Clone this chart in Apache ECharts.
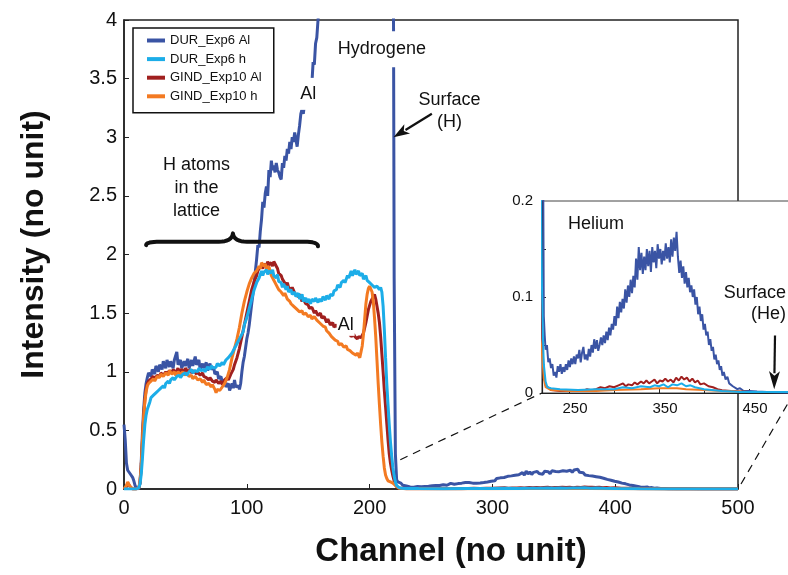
<!DOCTYPE html>
<html>
<head>
<meta charset="utf-8">
<script src="https://cdn.jsdelivr.net/npm/echarts@6/dist/echarts.min.js"></script>
<style>
html, body { margin: 0; padding: 0; background: #fff; }
#chart { width: 788px; height: 575px; }
</style>
</head>
<body>
<div id="chart"></div>
<script>
// [channel, intensity]
var durAl = [[0,0.55],[1,0.42],[2,0.22],[3,0.16],[5,0.13],[7,0.1],[8,0.07],[9,0.03],[10,0.01],[12,0],[13,0.05],[14,0.22],[15,0.48],[16,0.68],[17,0.82],[18,0.9],[19,0.95],[20,0.99],[22,0.96],[23,1.02],[25,0.98],[26,1.05],[28,1.0],[29,1.06],[31,1.02],[32,1.09],[34,1.03],[35,1.1],[37,1.04],[38,1.09],[40,1.03],[41,1.1],[43,1.17],[44,1.06],[46,1.1],[47,1.03],[49,1.09],[50,1.05],[52,1.11],[53,1.03],[55,1.1],[56,1.05],[58,1.13],[59,1.06],[61,1.1],[62,1.02],[64,1.07],[65,1.03],[67,1.08],[68,1.01],[70,1.07],[71,1.02],[73,1.04],[74,0.98],[76,1.0],[77,0.94],[79,0.96],[80,0.91],[82,0.93],[83,0.87],[85,0.9],[86,0.84],[88,0.9],[89,0.86],[90,0.93],[91,0.87],[93,0.88],[94,0.85],[95,0.9],[96,1.0],[97,1.08],[98,1.13],[100,1.28],[101,1.33],[102,1.4],[104,1.58],[105,1.66],[106,1.76],[108,1.96],[109,2.08],[110,2.06],[111,2.2],[112,2.3],[113,2.45],[114,2.4],[115,2.52],[116,2.58],[117,2.5],[118,2.72],[119,2.66],[120,2.8],[121,2.72],[122,2.76],[123,2.7],[124,2.78],[125,2.72],[126,2.7],[127,2.66],[128,2.64],[129,2.78],[130,2.74],[131,2.84],[132,2.8],[133,2.9],[134,2.86],[135,2.96],[136,2.9],[137,3.0],[138,2.96],[139,3.04],[140,2.98],[141,2.92],[142,3.02],[143,3.1],[144,3.2],[145,3.24],[146,3.2],[147,3.28],[148,3.3],[149,3.26],[150,3.34],[151,3.42],[152,3.48],[153,3.46],[154,3.64],[155,3.62],[156,3.8],[157,3.85],[158,4.0],[160,4.3],[165,5.0],[170,5.8],[180,7.2],[190,8.5],[200,9.6],[210,10.4],[216,10.8],[218,10.5],[219,6.0],[220,1.8],[221,0.3],[222,0.08],[223,0.06],[224,0.045],[225.5,0.05],[227,0.032],[228.5,0.036],[230,0.026],[231.5,0.03],[233,0.018],[234.5,0.022],[236,0.016],[237.5,0.028],[239,0.022],[240.5,0.03],[242,0.02],[243.5,0.027],[245,0.022],[246.5,0.03],[248,0.024],[249.5,0.034],[251,0.027],[252.5,0.036],[254,0.03],[255.5,0.038],[257,0.03],[258.5,0.04],[260,0.036],[261.5,0.045],[263,0.032],[264.5,0.042],[266,0.048],[267.5,0.035],[269,0.04],[270.5,0.034],[272,0.046],[273.5,0.038],[275,0.05],[276.5,0.042],[278,0.056],[279.5,0.046],[281,0.055],[282.5,0.044],[284,0.05],[285.5,0.058],[287,0.05],[288.5,0.06],[290,0.052],[291.5,0.064],[293,0.055],[294.5,0.068],[296,0.06],[297.5,0.072],[299,0.066],[300.5,0.08],[302,0.07],[303.5,0.09],[305,0.078],[306.5,0.095],[308,0.084],[309.5,0.098],[311,0.088],[312.5,0.108],[314,0.094],[315.5,0.112],[317,0.1],[318.5,0.118],[320,0.104],[321.5,0.122],[323,0.11],[324.5,0.14],[326,0.118],[327.5,0.152],[329,0.128],[330.5,0.146],[332,0.124],[333.5,0.142],[335,0.128],[336.5,0.15],[338,0.132],[339.5,0.148],[341,0.126],[342.5,0.152],[344,0.136],[345.5,0.148],[347,0.13],[348.5,0.155],[350,0.14],[351.5,0.15],[353,0.134],[354.5,0.148],[356,0.138],[357.5,0.156],[359,0.14],[360.5,0.152],[362,0.136],[363.5,0.16],[365,0.142],[366.5,0.162],[368,0.148],[369.5,0.168],[371,0.142],[372.5,0.125],[374,0.138],[375.5,0.12],[377,0.132],[378.5,0.114],[380,0.126],[381.5,0.11],[383,0.12],[384.5,0.105],[386,0.112],[387.5,0.1],[389,0.108],[390.5,0.092],[392,0.1],[393.5,0.082],[395,0.09],[396.5,0.075],[398,0.082],[399.5,0.066],[401,0.072],[402.5,0.06],[404,0.064],[405.5,0.05],[407,0.056],[408.5,0.044],[410,0.048],[411.5,0.035],[413,0.04],[414.5,0.03],[416,0.034],[417.5,0.024],[419,0.028],[420.5,0.018],[422,0.022],[424,0.014],[426,0.017],[428,0.01],[430,0.012],[432,0.007],[434,0.008],[437,0.004],[440,0.005],[444,0.002],[450,0.002],[459,0.0015],[470,0.001],[480,0.0008],[500,0.0005]];

var durH = [[0,0],[5,0],[10,0],[12,0.01],[13,0.04],[14,0.12],[15,0.26],[16,0.42],[17,0.55],[18,0.63],[19,0.68],[20,0.71],[21,0.74],[22,0.78],[23,0.77],[24,0.8],[26,0.82],[28,0.84],[29,0.83],[30,0.86],[32,0.88],[33,0.86],[34,0.9],[36,0.92],[37,0.9],[38,0.93],[40,0.95],[41,0.93],[43,0.96],[45,0.97],[46,0.95],[48,0.98],[50,0.99],[51,0.97],[53,1.0],[55,1.02],[56,0.99],[58,1.01],[60,1.0],[61,1.03],[63,1.01],[65,1.02],[66,1.0],[68,1.04],[70,1.02],[71,1.05],[73,1.03],[75,1.04],[76,1.07],[78,1.05],[80,1.08],[81,1.06],[83,1.1],[85,1.12],[86,1.11],[88,1.16],[90,1.2],[91,1.22],[93,1.26],[95,1.3],[97,1.34],[98,1.4],[100,1.46],[102,1.54],[104,1.62],[106,1.7],[108,1.76],[110,1.8],[111,1.83],[112,1.86],[113,1.82],[114,1.85],[116,1.87],[117,1.83],[118,1.86],[120,1.84],[121,1.87],[122,1.82],[124,1.8],[125,1.83],[126,1.77],[128,1.76],[129,1.72],[130,1.75],[132,1.7],[133,1.73],[134,1.68],[136,1.7],[137,1.66],[139,1.68],[140,1.64],[142,1.67],[143,1.62],[145,1.66],[146,1.6],[148,1.63],[149,1.59],[150,1.62],[152,1.58],[153,1.62],[155,1.6],[156,1.63],[158,1.59],[159,1.62],[161,1.6],[162,1.64],[164,1.61],[165,1.65],[167,1.62],[168,1.66],[170,1.65],[171,1.69],[173,1.7],[174,1.74],[176,1.72],[177,1.76],[179,1.78],[180,1.76],[182,1.82],[183,1.8],[185,1.86],[186,1.82],[188,1.87],[189,1.83],[191,1.86],[192,1.82],[194,1.84],[195,1.79],[197,1.82],[198,1.78],[200,1.76],[202,1.74],[204,1.72],[206,1.73],[208,1.7],[209,1.72],[210,1.68],[211,1.56],[212,1.36],[213,1.12],[214,0.9],[215,0.72],[216,0.55],[217,0.4],[218,0.28],[219,0.18],[220,0.11],[221,0.06],[222,0.03],[224,0.012],[226,0.006],[230,0.005],[240,0.004],[260,0.003],[280,0.004],[300,0.004],[310,0.006],[320,0.005],[330,0.007],[340,0.006],[345,0.008],[350,0.007],[355,0.009],[360,0.006],[365,0.009],[370,0.008],[375,0.01],[380,0.007],[385,0.008],[390,0.006],[400,0.004],[420,0.002],[440,0.001],[460,0.001],[500,0.001]];

var gindAl = [[0,0],[2,0.02],[3,0.05],[4,0.04],[5,0.02],[7,0],[10,0],[12,0.01],[13,0.05],[14,0.18],[15,0.4],[16,0.62],[17,0.76],[18,0.85],[19,0.9],[20,0.92],[22,0.94],[24,0.96],[25,0.94],[27,0.97],[29,0.96],[30,0.99],[32,0.97],[34,1.0],[35,0.98],[37,1.01],[39,0.99],[40,1.02],[42,0.99],[44,1.03],[45,1.0],[47,1.02],[49,0.99],[50,1.03],[52,1.0],[54,1.02],[55,0.99],[57,1.01],[59,0.98],[60,1.0],[62,0.97],[64,0.99],[65,0.96],[67,0.95],[69,0.93],[70,0.95],[72,0.92],[74,0.91],[75,0.93],[77,0.9],[79,0.92],[80,0.89],[82,0.93],[84,0.95],[85,0.93],[87,0.98],[89,1.02],[90,1.06],[92,1.12],[94,1.2],[96,1.3],[98,1.4],[100,1.5],[102,1.6],[104,1.7],[106,1.77],[108,1.82],[109,1.86],[110,1.88],[112,1.9],[113,1.88],[114,1.92],[116,1.9],[117,1.94],[118,1.91],[120,1.93],[121,1.9],[122,1.94],[123,1.95],[124,1.9],[125,1.88],[126,1.84],[128,1.82],[129,1.79],[130,1.78],[132,1.74],[133,1.76],[134,1.72],[136,1.7],[137,1.72],[139,1.67],[140,1.66],[142,1.64],[143,1.66],[145,1.6],[146,1.62],[148,1.58],[150,1.57],[151,1.54],[153,1.55],[155,1.5],[156,1.52],[158,1.48],[160,1.5],[161,1.46],[163,1.47],[165,1.42],[166,1.45],[168,1.4],[170,1.42],[171,1.38],[173,1.4],[175,1.37],[177,1.36],[179,1.35],[181,1.33],[183,1.34],[185,1.3],[187,1.32],[188,1.3],[190,1.28],[191,1.3],[193,1.29],[195,1.33],[197,1.42],[199,1.53],[201,1.6],[203,1.64],[204,1.66],[205,1.62],[206,1.56],[207,1.5],[208,1.42],[209,1.3],[210,1.15],[211,1.0],[212,0.84],[213,0.7],[214,0.56],[215,0.42],[216,0.3],[217,0.22],[218,0.16],[219,0.11],[220,0.07],[221,0.04],[222,0.02],[224,0.008],[230,0.003],[240,0.002],[250,0.002],[260,0.003],[265,0.002],[270,0.004],[275,0.003],[280,0.004],[285,0.006],[290,0.005],[295,0.007],[300,0.006],[305,0.008],[310,0.01],[313,0.007],[316,0.009],[320,0.008],[323,0.011],[326,0.009],[330,0.012],[333,0.01],[336,0.013],[339,0.01],[342,0.012],[345,0.014],[348,0.01],[351,0.013],[354,0.012],[357,0.015],[360,0.012],[363,0.014],[366,0.011],[369,0.016],[372,0.013],[375,0.017],[378,0.014],[381,0.016],[384,0.012],[387,0.015],[390,0.011],[393,0.013],[396,0.009],[400,0.01],[405,0.007],[410,0.006],[415,0.004],[420,0.003],[430,0.002],[450,0.001],[500,0.001]];

var gindH = [[0,0],[2,0.03],[3,0.06],[4,0.05],[5,0.02],[7,0],[10,0],[12,0.01],[13,0.06],[14,0.2],[15,0.42],[16,0.62],[17,0.75],[18,0.83],[19,0.88],[20,0.9],[22,0.92],[24,0.94],[25,0.92],[27,0.96],[29,0.95],[30,0.98],[32,0.96],[34,0.99],[36,0.97],[37,1.01],[39,0.98],[41,1.0],[42,0.97],[44,1.0],[46,0.98],[48,1.0],[49,0.97],[51,0.99],[53,0.96],[55,0.97],[56,0.94],[58,0.96],[60,0.93],[62,0.94],[64,0.91],[65,0.93],[67,0.89],[69,0.9],[71,0.87],[72,0.89],[74,0.85],[75,0.82],[76,0.85],[78,0.84],[80,0.87],[82,0.9],[84,0.95],[86,1.02],[88,1.12],[90,1.2],[92,1.28],[94,1.38],[96,1.5],[98,1.6],[100,1.68],[102,1.75],[104,1.8],[106,1.84],[108,1.86],[110,1.9],[111,1.88],[112,1.93],[114,1.9],[115,1.92],[116,1.88],[118,1.9],[119,1.85],[120,1.82],[122,1.78],[123,1.76],[125,1.72],[126,1.7],[128,1.68],[130,1.65],[131,1.67],[133,1.62],[135,1.6],[136,1.58],[138,1.56],[140,1.54],[141,1.55],[143,1.51],[145,1.52],[146,1.49],[148,1.5],[150,1.47],[152,1.48],[153,1.45],[155,1.47],[157,1.44],[159,1.42],[160,1.43],[162,1.39],[164,1.38],[165,1.35],[167,1.33],[169,1.3],[170,1.31],[172,1.27],[174,1.26],[175,1.23],[177,1.24],[179,1.21],[181,1.22],[182,1.19],[184,1.18],[186,1.16],[187,1.17],[189,1.14],[190,1.16],[192,1.12],[193,1.17],[194,1.22],[195,1.32],[196,1.45],[197,1.58],[198,1.66],[199,1.71],[200,1.73],[201,1.72],[202,1.68],[203,1.6],[204,1.46],[205,1.3],[206,1.1],[207,0.9],[208,0.72],[209,0.55],[210,0.4],[211,0.28],[212,0.18],[213,0.12],[214,0.09],[215,0.07],[217,0.06],[219,0.05],[220,0.04],[221,0.03],[222,0.015],[224,0.006],[230,0.003],[250,0.002],[280,0.002],[300,0.003],[330,0.004],[350,0.005],[370,0.005],[380,0.004],[400,0.003],[420,0.002],[450,0.001],[500,0.001]];

var seriesNames = ['DUR_Exp6 Al', 'DUR_Exp6 h', 'GIND_Exp10 Al', 'GIND_Exp10 h'];
var seriesColors = ['#3a54a4', '#1cade8', '#a0201f', '#f37a22'];
var insetTicks = [250, 300, 350, 400, 450];
var insetLabels = [250, 350, 450];

var chart = echarts.init(document.getElementById('chart'));
var font = 'Liberation Sans, Arial, Helvetica, sans-serif';

function makeLine(idx, data, grid, width, z) {
    return {
        name: seriesNames[idx],
        type: 'line',
        data: data,
        xAxisIndex: grid,
        yAxisIndex: grid,
        symbol: 'none',
        showSymbol: false,
        z: z,
        lineStyle: { color: seriesColors[idx], width: width },
        itemStyle: { color: seriesColors[idx] }
    };
}

// draw order: dark blue under, cyan on top
var order = [[0, durAl], [2, gindAl], [3, gindH], [1, durH]];
var series = [];
order.forEach(function (o) { series.push(makeLine(o[0], o[1], 0, 3, 2)); });
order.forEach(function (o) { series.push(makeLine(o[0], o[1], 1, 2, 5)); });

chart.setOption({
    animation: false,
    textStyle: { fontFamily: font, color: '#111' },
    grid: [
        { left: 124, right: 50, top: 20, bottom: 86, show: true, outerBoundsMode: 'none',
          borderColor: '#222', borderWidth: 1.5 },
        { left: 542, top: 201, width: 252, height: 192, show: true, z: 1, outerBoundsMode: 'none',
          backgroundColor: '#fff', borderColor: '#444', borderWidth: 1 }
    ],
    legend: {
        data: seriesNames,
        orient: 'vertical',
        left: 133,
        top: 28,
        icon: 'rect',
        itemWidth: 18,
        itemHeight: 4,
        itemGap: 3.6,
        padding: [5, 12, 9, 14],
        backgroundColor: '#fff',
        borderColor: '#111',
        borderWidth: 1.5,
        textStyle: { fontSize: 13, lineHeight: 15, color: '#111' }
    },
    xAxis: [
        {
            type: 'value', gridIndex: 0, min: 0, max: 500, interval: 100,
            name: 'Channel (no unit)', nameLocation: 'middle', nameGap: 46,
            nameTextStyle: { fontSize: 33, fontWeight: 'bold', color: '#111', padding: [0, 0, 0, 40] },
            axisLine: { lineStyle: { color: '#222', width: 1.5 } },
            axisTick: { inside: true, length: 5, lineStyle: { color: '#222' } },
            axisLabel: { fontSize: 20, margin: 9, color: '#111' },
            splitLine: { show: false }
        },
        {
            type: 'value', gridIndex: 1, min: 220, max: 500, z: 3,
            axisLine: { lineStyle: { color: '#222', width: 1.2 } },
            axisTick: { inside: true, length: 4, customValues: insetTicks, lineStyle: { color: '#222' } },
            axisLabel: { fontSize: 15, margin: 8, color: '#111', customValues: insetLabels, padding: [0, 0, 0, 12] },
            splitLine: { show: false }
        }
    ],
    yAxis: [
        {
            type: 'value', gridIndex: 0, min: 0, max: 4, interval: 0.5,
            name: 'Intensity (no unit)', nameLocation: 'middle', nameGap: 74,
            nameTextStyle: { fontSize: 32, fontWeight: 'bold', color: '#111', padding: [0, 0, 0, 20] },
            axisLine: { lineStyle: { color: '#222', width: 1.5 } },
            axisTick: { inside: true, length: 5, lineStyle: { color: '#222' } },
            axisLabel: { fontSize: 20, margin: 7, color: '#111' },
            splitLine: { show: false }
        },
        {
            type: 'value', gridIndex: 1, min: 0, max: 0.2, interval: 0.05, z: 3,
            axisLine: { lineStyle: { color: '#222', width: 1.2 } },
            axisTick: { inside: true, length: 4, customValues: [0.05, 0.1, 0.15], lineStyle: { color: '#222' } },
            axisLabel: { fontSize: 15, margin: 9, color: '#111', customValues: [0, 0.1, 0.2] },
            splitLine: { show: false }
        }
    ],
    series: series
});

// annotations, placed in data coordinates
function p0(pt) { return chart.convertToPixel({ gridIndex: 0 }, pt); }
function p1(pt) { return chart.convertToPixel({ gridIndex: 1 }, pt); }

function label(pos, text, opts) {
    var s = {
        text: text, fontSize: 18, fontFamily: font, fill: '#111',
        align: 'center', verticalAlign: 'middle'
    };
    for (var k in opts) s[k] = opts[k];
    return { type: 'text', x: pos[0], y: pos[1], z: 20, style: s };
}

function arrow(from, to, headLen, headW) {
    var dx = to[0] - from[0], dy = to[1] - from[1];
    var len = Math.sqrt(dx * dx + dy * dy);
    var ux = dx / len, uy = dy / len;
    var bx = to[0] - ux * headLen, by = to[1] - uy * headLen;
    return [
        { type: 'line', z: 20, shape: { x1: from[0], y1: from[1], x2: bx + ux * 2, y2: by + uy * 2 },
          style: { stroke: '#111', lineWidth: 2.2 } },
        { type: 'polygon', z: 20, shape: { points: [to,
            [bx - uy * headW / 2, by + ux * headW / 2],
            [bx + ux * headLen * 0.25, by + uy * headLen * 0.25],
            [bx + uy * headW / 2, by - ux * headW / 2]] },
          style: { fill: '#111' } }
    ];
}

// quadratic curve sampled into points
function quad(a, c, b, pts) {
    for (var i = 0; i <= 8; i++) {
        var t = i / 8, u = 1 - t;
        pts.push([u * u * a[0] + 2 * u * t * c[0] + t * t * b[0], u * u * a[1] + 2 * u * t * c[1] + t * t * b[1]]);
    }
}

function brace(left, mid, right) {
    var a = p0(left), m = p0(mid), b = p0(right);
    var y = (a[1] + b[1]) / 2 - 4;
    var pts = [];
    quad(a, [a[0], y], [a[0] + 14, y], pts);
    quad([m[0] - 14, y], [m[0] - 1, y], m, pts);
    quad(m, [m[0] + 1, y], [m[0] + 14, y], pts);
    quad([b[0] - 14, y], [b[0], y], b, pts);
    return { type: 'polyline', z: 20, shape: { points: pts },
             style: { stroke: '#111', lineWidth: 4, fill: null, lineCap: 'round', lineJoin: 'round' } };
}

var g = [];
g.push(label(p0([210, 3.75]), 'Hydrogene', { backgroundColor: '#fff', padding: [9, 3] }));
g.push(label(p0([150, 3.37]), 'Al', { backgroundColor: '#fff', padding: [7, 1] }));
g.push(label(p0([180.5, 1.40]), 'Al', { backgroundColor: '#fff', padding: [2, 1] }));
g.push(label(p0([59, 2.57]), 'H atoms\nin the\nlattice', { lineHeight: 23 }));
g.push(label(p0([265, 3.22]), 'Surface\n(H)', { lineHeight: 22 }));
g = g.concat(arrow(p0([250.7, 3.20]), p0([219.5, 3.0]), 16, 11));
g.push(brace([18, 2.08], [88.7, 2.18], [158, 2.07]));
g.push(label(p1([280, 0.176]), 'Helium', {}));
g.push(label(p1([491, 0.093]), 'Surface\n(He)', { lineHeight: 21, align: 'right' }));
g = g.concat(arrow(p1([478.9, 0.06]), p1([478, 0.004]), 18, 11));
// zoom guide lines from the main plot to the inset corners
var a1 = p0([225, 0.25]), b1 = p1([220, 0]);
var a2 = p0([500, 0]), b2 = p1([500, 0]);
g.push({ type: 'line', z: 20, shape: { x1: a1[0], y1: a1[1], x2: b1[0], y2: b1[1] },
         style: { stroke: '#111', lineWidth: 1.2, lineDash: [8, 6] } });
g.push({ type: 'line', z: 20, shape: { x1: a2[0] + 3, y1: a2[1] - 5, x2: b2[0], y2: b2[1] },
         style: { stroke: '#111', lineWidth: 1.2, lineDash: [8, 6] } });

chart.setOption({ graphic: g });
</script>
</body>
</html>
